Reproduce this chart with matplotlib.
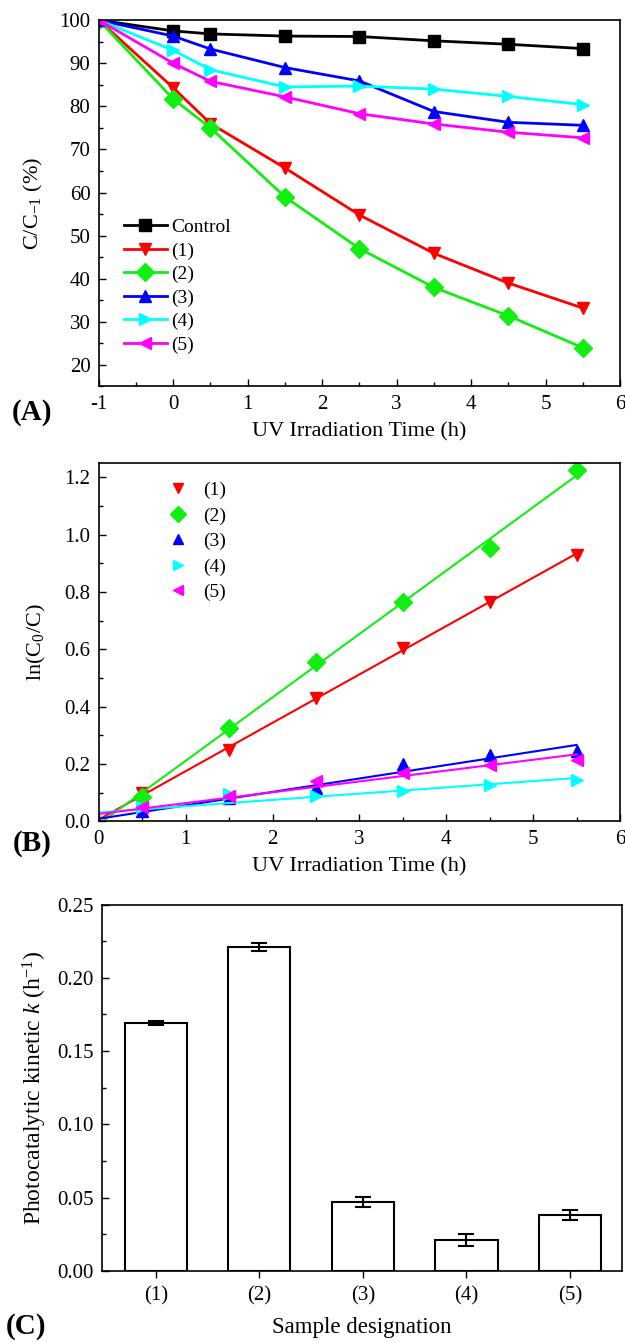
import matplotlib
matplotlib.use('Agg')
import matplotlib.pyplot as plt
from matplotlib.ticker import MultipleLocator, FormatStrFormatter
import numpy as np

plt.rcParams['font.family'] = ['Liberation Serif', 'DejaVu Serif']
plt.rcParams['mathtext.fontset'] = 'custom'
plt.rcParams['mathtext.rm'] = 'Liberation Serif'
plt.rcParams['mathtext.it'] = 'Liberation Serif:italic'
plt.rcParams['axes.unicode_minus'] = False
plt.rcParams['xtick.direction'] = 'in'
plt.rcParams['ytick.direction'] = 'in'

# ---- panel A data: C/C-1 (%) vs time ----
time_a = [-1, 0, 0.5, 1.5, 2.5, 3.5, 4.5, 5.5]
control = [100, 97.5, 96.8, 96.3, 96.2, 95.2, 94.4, 93.4]
s1_a = [100, 84.3, 76.0, 65.7, 54.8, 45.9, 39.0, 33.2]
s2_a = [100, 81.7, 75.0, 59.0, 47.0, 38.0, 31.4, 24.0]
s3_a = [100, 96.3, 93.3, 89.0, 85.9, 78.8, 76.3, 75.6]
s4_a = [100, 93.0, 88.5, 84.5, 84.7, 84.0, 82.3, 80.4]
s5_a = [100, 90.0, 85.8, 82.2, 78.3, 75.9, 74.0, 72.7]

# ---- panel B data: ln(C0/C) vs time (origin is t=0, ln=0) ----
time_b = [0.5, 1.5, 2.5, 3.5, 4.5, 5.5]
s1_b = [0.100, 0.250, 0.430, 0.605, 0.765, 0.930]
s2_b = [0.085, 0.325, 0.555, 0.765, 0.955, 1.225]
s3_b = [0.035, 0.080, 0.115, 0.200, 0.230, 0.245]
s4_b = [0.050, 0.095, 0.090, 0.105, 0.125, 0.145]
s5_b = [0.050, 0.090, 0.140, 0.170, 0.195, 0.215]

# ---- panel C data: rate constants ----
samples = ['(1)', '(2)', '(3)', '(4)', '(5)']
k_vals = [0.169, 0.221, 0.047, 0.021, 0.038]
k_err = [0.0015, 0.003, 0.0035, 0.004, 0.0035]

labels = ['(1)', '(2)', '(3)', '(4)', '(5)']
colors = ['#ff0000', '#11ee11', '#0000ff', '#00ffff', '#ff00ff']
markers = ['v', 'D', '^', '>', '<']

fig = plt.figure(figsize=(6.25, 13.42), dpi=100)

# ---------------- (A) ----------------
ax1 = fig.add_axes([0.158, 0.712, 0.834, 0.273])
ax1.plot(time_a, control, color='black', marker='s', markersize=8, lw=2, label='Control')
for ys, c, m, lab in zip([s1_a, s2_a, s3_a, s4_a, s5_a], colors, markers, labels):
    ax1.plot(time_a, ys, color=c, marker=m, markersize=9, lw=2, label=lab)
ax1.set_xlim(-1, 6)
ax1.set_ylim(15, 100)
ax1.yaxis.set_major_locator(MultipleLocator(10))
ax1.yaxis.set_minor_locator(MultipleLocator(5))
ax1.xaxis.set_major_locator(MultipleLocator(1))
ax1.xaxis.set_minor_locator(MultipleLocator(0.5))
ax1.set_xlabel('UV Irradiation Time (h)', fontsize=16, labelpad=6)
ax1.set_ylabel('C/C$_{-1}$ (%)', fontsize=16, labelpad=10)
ax1.legend(loc='upper left', bbox_to_anchor=(0.03, 0.485), frameon=False, fontsize=14,
           handlelength=2.2, handletextpad=0.2, labelspacing=0.3, borderpad=0)
ax1.text(-0.129, -0.071, '(A)', transform=ax1.transAxes, fontsize=21, fontweight='bold',
         ha='center', va='center')

# ---------------- (B) ----------------
ax2 = fig.add_axes([0.158, 0.388, 0.834, 0.267])
fit_x = np.array([0, 5.5])
for ys, c, m, lab in zip([s1_b, s2_b, s3_b, s4_b, s5_b], colors, markers, labels):
    ax2.plot(time_b, ys, linestyle='none', color=c, marker=m, markersize=9, label=lab)
    p = np.polyfit([0] + time_b, [0] + ys, 1)
    ax2.plot(fit_x, np.polyval(p, fit_x), color=c, lw=1.5)
ax2.set_xlim(0, 6)
ax2.set_ylim(0, 1.25)
ax2.yaxis.set_major_locator(MultipleLocator(0.2))
ax2.yaxis.set_minor_locator(MultipleLocator(0.1))
ax2.xaxis.set_major_locator(MultipleLocator(1))
ax2.xaxis.set_minor_locator(MultipleLocator(0.5))
ax2.yaxis.set_major_formatter(FormatStrFormatter('%.1f'))
ax2.set_xlabel('UV Irradiation Time (h)', fontsize=16, labelpad=6)
ax2.set_ylabel('ln(C$_0$/C)', fontsize=16, labelpad=12)
ax2.legend(loc='upper left', bbox_to_anchor=(0.115, 0.975), frameon=False, fontsize=14,
           markerscale=0.85, handlelength=1.0, handletextpad=0.8, labelspacing=0.4, borderpad=0)
ax2.text(-0.127, -0.061, '(B)', transform=ax2.transAxes, fontsize=21, fontweight='bold',
         ha='center', va='center')

# ---------------- (C) ----------------
ax3 = fig.add_axes([0.163, 0.053, 0.832, 0.273])
pos = np.arange(1, len(samples) + 1)
ax3.bar(pos, k_vals, width=0.6, color='white', edgecolor='black', linewidth=1.5,
        yerr=k_err, capsize=6, error_kw=dict(elinewidth=1.5, capthick=1.5))
ax3.set_xticks(pos)
ax3.set_xticklabels(samples)
ax3.set_xlim(0.48, 5.5)
ax3.set_ylim(0, 0.25)
ax3.yaxis.set_major_locator(MultipleLocator(0.05))
ax3.yaxis.set_minor_locator(MultipleLocator(0.025))
ax3.yaxis.set_major_formatter(FormatStrFormatter('%.2f'))
ax3.tick_params(axis='x', direction='out')
ax3.set_xlabel('Sample designation', fontsize=16.5, labelpad=8)
ax3.set_ylabel('Photocatalytic kinetic $k$ (h$^{-1}$)', fontsize=17, labelpad=6)
ax3.text(-0.146, -0.152, '(C)', transform=ax3.transAxes, fontsize=21, fontweight='bold',
         ha='center', va='center')

for ax in [ax1, ax2, ax3]:
    ax.tick_params(which='major', labelsize=15, length=5, width=1, pad=6)
    ax.tick_params(which='minor', length=3, width=1)
    for sp in ax.spines.values():
        sp.set_linewidth(1.2)

fig.savefig('out.png', dpi=100)
